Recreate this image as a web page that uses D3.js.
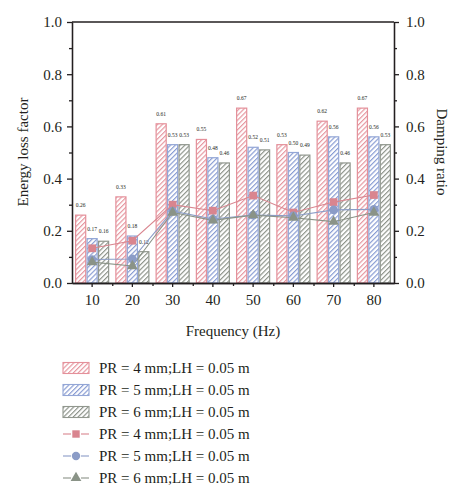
<!DOCTYPE html>
<html>
<head>
<meta charset="utf-8">
<script src="https://cdn.jsdelivr.net/npm/d3@7"></script>
<style>
  body { margin: 0; background: #fff; }
  svg { display: block; }
  text { font-family: "Liberation Serif", "DejaVu Serif", serif; fill: #231f20; }
</style>
</head>
<body>
<svg width="467" height="500"></svg>
<script>
// data
const freqs = ["10", "20", "30", "40", "50", "60", "70", "80"];
const seriesNames = ["PR = 4 mm;LH = 0.05 m", "PR = 5 mm;LH = 0.05 m", "PR = 6 mm;LH = 0.05 m"];

// energy loss factor (bars, left axis)
const lossPR4 = [0.26, 0.33, 0.61, 0.55, 0.67, 0.53, 0.62, 0.67];
const lossPR5 = [0.17, 0.18, 0.53, 0.48, 0.52, 0.50, 0.56, 0.56];
const lossPR6 = [0.16, 0.12, 0.53, 0.46, 0.51, 0.49, 0.46, 0.53];

// damping ratio (lines, right axis)
const dampPR4 = [0.133, 0.162, 0.300, 0.277, 0.335, 0.270, 0.310, 0.337];
const dampPR5 = [0.090, 0.092, 0.275, 0.245, 0.260, 0.257, 0.280, 0.282];
const dampPR6 = [0.080, 0.065, 0.270, 0.240, 0.260, 0.250, 0.235, 0.270];

const yTicks = [0, 0.2, 0.4, 0.6, 0.8, 1.0];
const yMinor = [0.1, 0.3, 0.5, 0.7, 0.9];

const colors = {
  stroke: ["#e4909a", "#93a6d6", "#91978e"],
  hatch:  ["#e58f99", "#7f95cf", "#858b82"],
  marker: ["#d9858f", "#8b9cc7", "#8a9387"]
};
const shapes = [d3.symbolSquare, d3.symbolCircle, d3.symbolTriangle];

const lossSeries = [lossPR4, lossPR5, lossPR6];
const dampSeries = [dampPR4, dampPR5, dampPR6];

const svg = d3.select("svg");
const pLeft = 72, pRight = 394, pTop = 22, pBottom = 283;

const x0 = d3.scaleBand().domain(freqs).range([pLeft, pRight])
  .paddingInner(0.18).paddingOuter(0.09);
const x1 = d3.scaleBand().domain([0, 1, 2]).range([0, x0.bandwidth()]).paddingInner(0.12);
const xEdge = d3.scaleLinear().domain([0, freqs.length]).range([pLeft, pRight]);
const yL = d3.scaleLinear().domain([0, 1]).range([pBottom, pTop]);
const yR = d3.scaleLinear().domain([0, 1]).range([pBottom, pTop]);

// hatch patterns
const defs = svg.append("defs");
colors.hatch.forEach((c, i) => {
  const p = defs.append("pattern")
    .attr("id", "hatch" + i)
    .attr("patternUnits", "userSpaceOnUse")
    .attr("width", 3.4).attr("height", 3.4)
    .attr("patternTransform", "rotate(45)");
  p.append("rect").attr("width", 3.4).attr("height", 3.4).attr("fill", "#fff");
  p.append("line").attr("x1", 0.6).attr("y1", 0).attr("x2", 0.6).attr("y2", 3.4)
    .attr("stroke", c).attr("stroke-width", 1.1);
});

// bars
const groups = svg.append("g").selectAll("g")
  .data(freqs)
  .enter().append("g")
  .attr("transform", d => `translate(${x0(d)},0)`);

groups.selectAll("rect")
  .data((d, fi) => lossSeries.map((s, si) => ({ si, v: s[fi] })))
  .enter().append("rect")
  .attr("x", d => x1(d.si))
  .attr("width", x1.bandwidth())
  .attr("y", d => yL(d.v))
  .attr("height", d => yL(0) - yL(d.v))
  .attr("fill", d => `url(#hatch${d.si})`)
  .attr("stroke", d => colors.stroke[d.si])
  .attr("stroke-width", 1.2);

groups.selectAll("text")
  .data((d, fi) => lossSeries.map((s, si) => ({ si, v: s[fi] })))
  .enter().append("text")
  .attr("x", d => x1(d.si) + x1.bandwidth() / 2)
  .attr("y", d => yL(d.v) - 8)
  .attr("text-anchor", "middle")
  .attr("font-size", 5.5)
  .text(d => d3.format(".2f")(d.v));

// damping lines + markers
const cx = f => x0(f) + x0.bandwidth() / 2;
dampSeries.forEach((s, si) => {
  const line = d3.line().x((d, i) => cx(freqs[i])).y(d => yR(d));
  svg.append("path")
    .attr("d", line(s))
    .attr("fill", "none")
    .attr("stroke", colors.marker[si])
    .attr("stroke-width", 1.1);
});
dampSeries.forEach((s, si) => {
  svg.append("g").selectAll("path")
    .data(s)
    .enter().append("path")
    .attr("transform", (d, i) => `translate(${cx(freqs[i])},${yR(d)})`)
    .attr("d", d3.symbol().type(shapes[si]).size(si === 2 ? 50 : 60))
    .attr("fill", colors.marker[si]);
});

// axes
function styleAxis(g) {
  g.selectAll("path, line").attr("stroke", "#231f20").attr("stroke-width", 1.3);
  g.selectAll("text").attr("font-size", 15).attr("font-family", "Liberation Serif").attr("fill", "#231f20");
}

svg.append("g").attr("transform", `translate(${pLeft},0)`)
  .call(d3.axisLeft(yL).tickValues(yTicks).tickFormat(d3.format(".1f")).tickSize(5).tickSizeOuter(0).tickPadding(5))
  .call(styleAxis);
svg.append("g").attr("transform", `translate(${pLeft},0)`)
  .call(d3.axisLeft(yL).tickValues(yMinor).tickFormat("").tickSize(3).tickSizeOuter(0))
  .call(styleAxis);

svg.append("g").attr("transform", `translate(${pRight},0)`)
  .call(d3.axisRight(yR).tickValues(yTicks).tickFormat(d3.format(".1f")).tickSize(5).tickSizeOuter(0).tickPadding(7))
  .call(styleAxis);
svg.append("g").attr("transform", `translate(${pRight},0)`)
  .call(d3.axisRight(yR).tickValues(yMinor).tickFormat("").tickSize(3).tickSizeOuter(0))
  .call(styleAxis);

svg.append("g").attr("transform", `translate(0,${pBottom})`)
  .call(d3.axisBottom(x0).tickSize(4).tickSizeOuter(0).tickPadding(7))
  .call(styleAxis);
svg.append("g").attr("transform", `translate(0,${pBottom})`)
  .call(d3.axisBottom(xEdge).tickValues(d3.range(1, freqs.length)).tickFormat("").tickSize(3).tickSizeOuter(0))
  .call(styleAxis);

svg.append("line")
  .attr("x1", pLeft).attr("x2", pRight).attr("y1", pTop).attr("y2", pTop)
  .attr("stroke", "#231f20").attr("stroke-width", 1.3);

// titles
svg.append("text")
  .attr("transform", `translate(28,152) rotate(-90)`)
  .attr("text-anchor", "middle").attr("font-size", 15)
  .text("Energy loss factor");
svg.append("text")
  .attr("transform", `translate(437,152) rotate(90)`)
  .attr("text-anchor", "middle").attr("font-size", 15)
  .text("Damping ratio");
svg.append("text")
  .attr("x", 233).attr("y", 336)
  .attr("text-anchor", "middle").attr("font-size", 15)
  .text("Frequency (Hz)");

// legend
const legend = svg.append("g").attr("transform", "translate(63,368)");
seriesNames.forEach((name, i) => {
  const row = legend.append("g").attr("transform", `translate(0,${i * 22})`);
  row.append("rect")
    .attr("x", 0).attr("y", -5.5).attr("width", 26).attr("height", 11)
    .attr("fill", `url(#hatch${i})`)
    .attr("stroke", colors.stroke[i]).attr("stroke-width", 1.1);
  row.append("text").attr("x", 36).attr("y", 5).attr("font-size", 15).text(name);
});
seriesNames.forEach((name, i) => {
  const row = legend.append("g").attr("transform", `translate(0,${(i + 3) * 22})`);
  row.append("line").attr("x1", 0).attr("x2", 8).attr("stroke", colors.marker[i]).attr("stroke-width", 1.1);
  row.append("line").attr("x1", 18).attr("x2", 26).attr("stroke", colors.marker[i]).attr("stroke-width", 1.1);
  row.append("path")
    .attr("transform", "translate(13,0)")
    .attr("d", d3.symbol().type(shapes[i]).size(i === 2 ? 50 : 55))
    .attr("fill", colors.marker[i]);
  row.append("text").attr("x", 36).attr("y", 5).attr("font-size", 15).text(name);
});
</script>
</body>
</html>
